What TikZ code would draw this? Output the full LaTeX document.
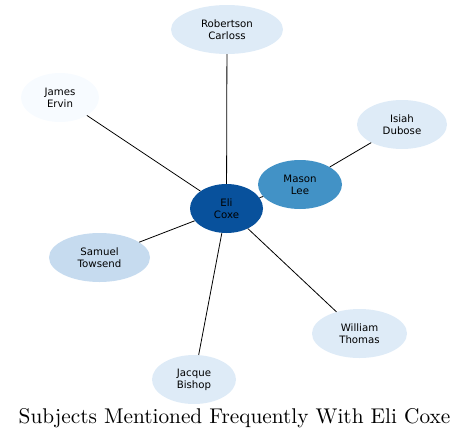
\documentclass[tikz,border=0pt]{standalone}
\usepackage{fontspec}
\newfontfamily\nodefont{DejaVu Sans}
\newfontfamily\titlefont{lmroman10-regular.otf}
\usetikzlibrary{shapes.geometric}
\definecolor{c1}{HTML}{08519C}
\definecolor{c2}{HTML}{4292C6}
\definecolor{c3}{HTML}{C6DBEF}
\definecolor{c4}{HTML}{DEEBF7}
\definecolor{c5}{HTML}{F7FBFF}
\begin{document}
\begin{tikzpicture}[x=1pt,y=-1pt,
  person/.style={ellipse,inner sep=0pt,minimum height=49pt,align=center,
    font=\nodefont\fontsize{10.2}{12}\selectfont,text=black},
  link/.style={draw=black,line width=0.8pt}]
\useasboundingbox (0,0) rectangle (469,440);
\node[person,fill=c4,minimum width=112pt] (rob) at (227,29.5) {Robertson\\Carloss};
\node[person,fill=c5,minimum width=78pt] (jam) at (60,97.5) {James\\Ervin};
\node[person,fill=c4,minimum width=90pt] (isi) at (402,124.5) {Isiah\\Dubose};
\node[person,fill=c2,minimum width=84pt] (mas) at (300,184.5) {Mason\\Lee};
\node[person,fill=c1,minimum width=73pt] (eli) at (226.5,208.5) {Eli\\Coxe};
\node[person,fill=c3,minimum width=101pt] (sam) at (99.5,257.5) {Samuel\\Towsend};
\node[person,fill=c4,minimum width=95pt] (wil) at (359.5,333.5) {William\\Thomas};
\node[person,fill=c4,minimum width=84pt] (jac) at (194,379.5) {Jacque\\Bishop};
\draw[link] (eli) -- (rob);
\draw[link] (eli) -- (jam);
\draw[link] (eli) -- (mas);
\draw[link] (eli) -- (sam);
\draw[link] (eli) -- (wil);
\draw[link] (eli) -- (jac);
\draw[link] (mas) -- (isi);
\node[font=\titlefont\fontsize{21.3}{24}\selectfont,inner sep=0pt] (title) at (234.5,418) {Subjects Mentioned Frequently With Eli Coxe};
\end{tikzpicture}
\end{document}
